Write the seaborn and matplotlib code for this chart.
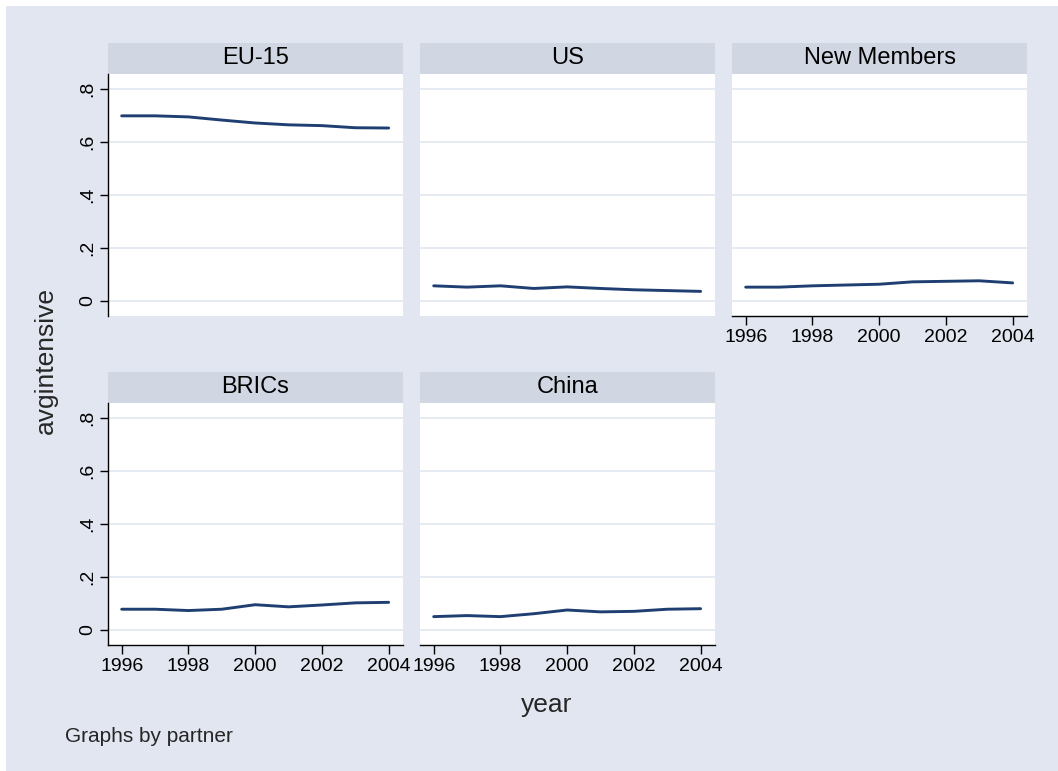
import matplotlib
matplotlib.use("Agg")
import matplotlib.pyplot as plt
from matplotlib.patches import Rectangle
import pandas as pd
import seaborn as sns

years = [1996, 1997, 1998, 1999, 2000, 2001, 2002, 2003, 2004]
partners = ["EU-15", "US", "New Members", "BRICs", "China"]
eu15 = [0.699, 0.699, 0.695, 0.683, 0.672, 0.665, 0.662, 0.654, 0.653]
us = [0.057, 0.052, 0.057, 0.047, 0.053, 0.047, 0.042, 0.039, 0.036]
new_members = [0.052, 0.052, 0.057, 0.060, 0.063, 0.072, 0.074, 0.076, 0.068]
brics = [0.077, 0.077, 0.072, 0.077, 0.094, 0.086, 0.093, 0.101, 0.103]
china = [0.049, 0.053, 0.049, 0.060, 0.074, 0.067, 0.069, 0.077, 0.079]

ytick_vals = [0, 0.2, 0.4, 0.6, 0.8]
ytick_labels = ["0", ".2", ".4", ".6", ".8"]
xtick_vals = [1996, 1998, 2000, 2002, 2004]

BG = "#e1e6f0"
STRIP = "#d0d7e2"
LINE = "#1f3f73"

df = pd.DataFrame({
    "partner": [p for p in partners for _ in years],
    "year": years * len(partners),
    "avgintensive": eu15 + us + new_members + brics + china,
})

sns.set_style("white")
plt.rcParams["font.family"] = ["Liberation Sans", "DejaVu Sans"]

g = sns.relplot(data=df, x="year", y="avgintensive", col="partner",
                col_order=partners, col_wrap=3, kind="line", color=LINE,
                linewidth=2.1, errorbar=None, height=3, aspect=1)
fig = g.figure
fig.set_size_inches(10.58, 7.71)
W, H = 1058, 771
fig.patch.set_facecolor("white")
# light graph region, white only along the top and left edges
fig.add_artist(Rectangle((6 / W, -0.05), 1.1, 1.05 - 6 / H, transform=fig.transFigure,
                         facecolor=BG, edgecolor="none", zorder=-10))

# panel geometry in pixels
col_left = [108, 420, 732]
row_top = [74, 402.7]
pw, ph = 295, 242
strip_h = 31

for i, ax in enumerate(g.axes.flat):
    r, c = divmod(i, 3)
    ax.set_position([col_left[c] / W, 1 - (row_top[r] + ph) / H, pw / W, ph / H])
    ax.set_facecolor("white")
    ax.set_xlim(1995.59, 2004.43)
    ax.set_ylim(-0.057, 0.857)
    ax.set_yticks(ytick_vals)
    ax.set_yticklabels(ytick_labels)
    ax.set_xticks(xtick_vals)
    ax.set_xticklabels([str(x) for x in xtick_vals])
    ax.grid(False)
    ax.grid(axis="y", color=BG, linewidth=1.2)
    ax.set_axisbelow(True)
    ax.set_title("")
    ax.set_xlabel("")
    ax.set_ylabel("")

    ax.add_patch(Rectangle((0, 1), 1, strip_h / ph, transform=ax.transAxes,
                           facecolor=STRIP, edgecolor="none", clip_on=False))
    ax.text(0.5, 1 + strip_h / 2 / ph, partners[i], transform=ax.transAxes,
            ha="center", va="center", fontsize=17, color="black")

    show_left = c == 0
    show_bottom = i >= 2
    for s in ["top", "right"]:
        ax.spines[s].set_visible(False)
    ax.spines["left"].set_visible(show_left)
    ax.spines["bottom"].set_visible(show_bottom)
    for s in ["left", "bottom"]:
        ax.spines[s].set_color("black")
        ax.spines[s].set_linewidth(1.0)

    ax.tick_params(axis="y", left=show_left, labelleft=show_left, length=5.8,
                   width=1.0, pad=3, labelsize=14, labelrotation=90, colors="black")
    ax.tick_params(axis="x", bottom=show_bottom, labelbottom=show_bottom, length=6.5,
                   width=1.0, pad=3, labelsize=14, colors="black")
    for lbl in ax.get_yticklabels():
        lbl.set_va("center")

fig.text(46 / W, 1 - 360 / H, "avgintensive", rotation=90, ha="center",
         va="center", fontsize=19)
fig.text(547 / W, 1 - 712 / H, "year", ha="center", va="baseline", fontsize=19)
fig.text(65 / W, 1 - 742 / H, "Graphs by partner", ha="left", va="baseline",
         fontsize=15)

fig.savefig("out.png", dpi=100)
